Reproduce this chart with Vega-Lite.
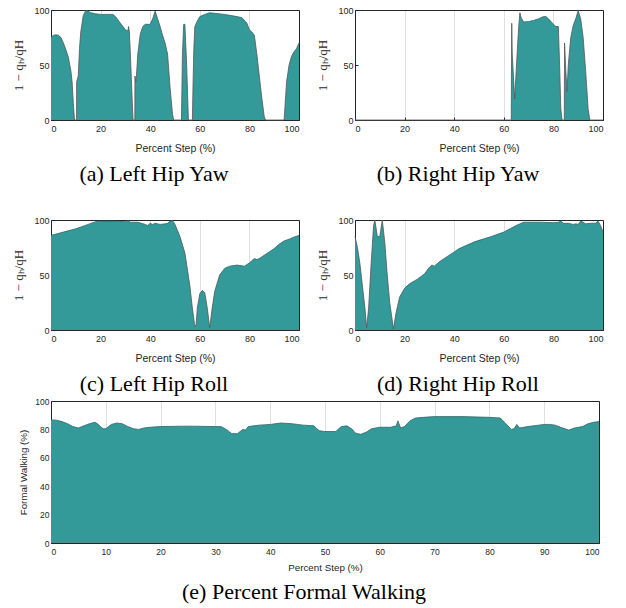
{
  "$schema": "https://vega.github.io/schema/vega-lite/v6.json",
  "background": "white",
  "padding": {"left": 12, "top": 5, "right": 5, "bottom": 5},
  "datasets": {
    "a": [{"x":0,"y":75},{"x":1,"y":77},{"x":2,"y":77.5},{"x":3,"y":77},{"x":4,"y":75},{"x":5,"y":70},{"x":6,"y":64},{"x":7,"y":57},{"x":8,"y":45},{"x":8.5,"y":35},{"x":9,"y":15},{"x":9.5,"y":0},{"x":10.3,"y":0},{"x":10.35,"y":35},{"x":11,"y":40},{"x":11.5,"y":65},{"x":12,"y":80},{"x":13,"y":95},{"x":14,"y":99.5},{"x":15,"y":99},{"x":16,"y":97.5},{"x":18,"y":96.5},{"x":20,"y":96},{"x":25,"y":96},{"x":26,"y":94},{"x":28,"y":88},{"x":30,"y":82},{"x":31,"y":81},{"x":31.3,"y":85},{"x":31.6,"y":80},{"x":32,"y":60},{"x":32.7,"y":20},{"x":33.1,"y":0},{"x":33.8,"y":0},{"x":33.85,"y":40},{"x":34.2,"y":35},{"x":34.4,"y":38},{"x":35,"y":60},{"x":36,"y":78},{"x":37,"y":85},{"x":38,"y":87},{"x":40,"y":87},{"x":41,"y":92},{"x":42,"y":99},{"x":43,"y":92},{"x":44,"y":85},{"x":45,"y":77},{"x":46,"y":70},{"x":47,"y":60},{"x":48,"y":30},{"x":49,"y":5},{"x":49.5,"y":0},{"x":52.6,"y":0},{"x":53,"y":60},{"x":53.5,"y":87},{"x":54,"y":87},{"x":54.7,"y":50},{"x":55.4,"y":0},{"x":57,"y":0},{"x":57.3,"y":35},{"x":57.6,"y":65},{"x":58,"y":85},{"x":59,"y":90},{"x":60,"y":94},{"x":62,"y":96},{"x":64,"y":97.5},{"x":66,"y":97},{"x":70,"y":96},{"x":75,"y":94},{"x":77,"y":93},{"x":79,"y":88},{"x":80,"y":82},{"x":81,"y":80},{"x":82,"y":77},{"x":83,"y":60},{"x":84,"y":40},{"x":85,"y":20},{"x":86,"y":3},{"x":86.5,"y":0},{"x":94,"y":0},{"x":95,"y":35},{"x":96,"y":50},{"x":97,"y":58},{"x":98,"y":62},{"x":99,"y":65},{"x":100,"y":70}],
    "b": [{"x":0,"y":0},{"x":63,"y":0},{"x":63.2,"y":88},{"x":63.4,"y":60},{"x":64.4,"y":19},{"x":65,"y":45},{"x":66,"y":85},{"x":66.5,"y":97.5},{"x":67,"y":93},{"x":68,"y":89},{"x":70,"y":89.5},{"x":72,"y":90.5},{"x":74,"y":92},{"x":76,"y":94},{"x":77,"y":94},{"x":78,"y":92},{"x":80,"y":87},{"x":81,"y":85},{"x":82,"y":85},{"x":82.5,"y":50},{"x":83,"y":10},{"x":83.5,"y":0},{"x":84.4,"y":0},{"x":84.5,"y":70},{"x":85,"y":45},{"x":85.5,"y":26},{"x":86,"y":50},{"x":87,"y":75},{"x":88,"y":86},{"x":89,"y":92},{"x":90,"y":99.5},{"x":91,"y":92},{"x":92,"y":75},{"x":93,"y":45},{"x":94,"y":10},{"x":94.7,"y":0},{"x":100,"y":0}],
    "c": [{"x":0,"y":86},{"x":5,"y":89},{"x":10,"y":92},{"x":15,"y":96},{"x":18,"y":98.5},{"x":20,"y":99},{"x":25,"y":99},{"x":30,"y":98.5},{"x":31,"y":99.5},{"x":32,"y":98},{"x":35,"y":98},{"x":38,"y":96},{"x":39,"y":95},{"x":40,"y":97},{"x":41,"y":96},{"x":42,"y":97},{"x":44,"y":96},{"x":46,"y":96.5},{"x":47,"y":97},{"x":48,"y":99},{"x":49,"y":99.5},{"x":50,"y":96},{"x":52,"y":85},{"x":54,"y":70},{"x":56,"y":40},{"x":57,"y":20},{"x":58,"y":3},{"x":58.5,"y":5},{"x":59,"y":20},{"x":60,"y":33},{"x":61,"y":36},{"x":62,"y":34},{"x":63,"y":20},{"x":64,"y":2},{"x":65,"y":20},{"x":66,"y":35},{"x":68,"y":50},{"x":70,"y":56},{"x":72,"y":58},{"x":75,"y":59},{"x":78,"y":58},{"x":80,"y":61},{"x":82,"y":65},{"x":83,"y":64},{"x":84,"y":65},{"x":86,"y":68},{"x":88,"y":71},{"x":90,"y":74},{"x":92,"y":78},{"x":94,"y":81},{"x":96,"y":82.5},{"x":98,"y":84.5},{"x":100,"y":86}],
    "d": [{"x":0,"y":85},{"x":1,"y":75},{"x":2,"y":60},{"x":3,"y":40},{"x":4,"y":20},{"x":4.7,"y":2},{"x":5.5,"y":20},{"x":6.5,"y":60},{"x":7.5,"y":95},{"x":8,"y":100},{"x":9,"y":85},{"x":10,"y":85},{"x":11,"y":100},{"x":12,"y":80},{"x":13,"y":50},{"x":14,"y":25},{"x":15.5,"y":1},{"x":16.5,"y":15},{"x":18,"y":30},{"x":20,"y":38},{"x":22,"y":42},{"x":25,"y":46},{"x":28,"y":51},{"x":30,"y":57},{"x":31,"y":59},{"x":32,"y":58},{"x":34,"y":62},{"x":36,"y":65},{"x":38,"y":68},{"x":40,"y":71},{"x":42,"y":74},{"x":45,"y":77},{"x":48,"y":80},{"x":50,"y":81.5},{"x":55,"y":85},{"x":60,"y":89},{"x":65,"y":95},{"x":68,"y":98},{"x":70,"y":98},{"x":75,"y":98},{"x":80,"y":97.5},{"x":82,"y":98},{"x":83,"y":99},{"x":84,"y":97},{"x":86,"y":97},{"x":88,"y":96},{"x":89,"y":96.5},{"x":90,"y":96},{"x":91,"y":99},{"x":92,"y":98},{"x":93,"y":96.5},{"x":95,"y":97},{"x":97,"y":97},{"x":98,"y":99},{"x":99,"y":95},{"x":100,"y":89}],
    "e": [{"x":0,"y":86.7},{"x":1,"y":86.5},{"x":2,"y":85.5},{"x":3,"y":84},{"x":4,"y":82},{"x":5,"y":81},{"x":6,"y":82.5},{"x":7,"y":84},{"x":8,"y":85},{"x":8.5,"y":84},{"x":9,"y":82},{"x":9.5,"y":80.5},{"x":10,"y":80.5},{"x":10.5,"y":82},{"x":11,"y":83.5},{"x":12,"y":84.5},{"x":13,"y":84},{"x":14,"y":82},{"x":15,"y":80.5},{"x":16,"y":80},{"x":17,"y":81},{"x":18,"y":81.5},{"x":20,"y":82},{"x":25,"y":82.3},{"x":30,"y":82},{"x":31,"y":82},{"x":32,"y":80},{"x":33,"y":77},{"x":34,"y":77},{"x":35,"y":80},{"x":35.5,"y":79.5},{"x":36,"y":82},{"x":38,"y":83},{"x":40,"y":83.5},{"x":42,"y":84.5},{"x":44,"y":84},{"x":46,"y":83},{"x":48,"y":82.5},{"x":48.5,"y":80.5},{"x":49,"y":79},{"x":50,"y":78.5},{"x":52,"y":78.5},{"x":52.5,"y":80.5},{"x":53,"y":82},{"x":54,"y":82.5},{"x":55,"y":80},{"x":55.5,"y":77.5},{"x":56.5,"y":76.5},{"x":57.5,"y":78},{"x":58.5,"y":80.5},{"x":60,"y":81.5},{"x":62,"y":81.5},{"x":63,"y":82.5},{"x":63.3,"y":86},{"x":63.8,"y":81},{"x":64.5,"y":82},{"x":65.5,"y":86},{"x":66.5,"y":88},{"x":68,"y":88.5},{"x":70,"y":89},{"x":75,"y":89},{"x":80,"y":88.5},{"x":82,"y":88},{"x":83,"y":84},{"x":84,"y":80},{"x":84.5,"y":80.5},{"x":85,"y":83.5},{"x":85.5,"y":81},{"x":87,"y":82},{"x":89,"y":83},{"x":90,"y":83.5},{"x":91,"y":83.5},{"x":92,"y":83},{"x":93,"y":81.5},{"x":94.5,"y":79.5},{"x":95.5,"y":81},{"x":97,"y":82},{"x":98,"y":84},{"x":99,"y":85},{"x":100,"y":85.5}]
  },
  "vconcat": [
    {
      "vconcat": [
        {
          "hconcat": [
            {
              "width": 248, "height": 110,
              "data": {"name": "a"},
              "title": {"text": "(a) Left Hip Yaw"},
              "mark": {"type": "area", "color": "#339999", "opacity": 1, "line": {"color": "#555555", "strokeWidth": 0.8}},
              "encoding": {
                "x": {"field": "x", "type": "quantitative", "scale": {"domain": [0, 100], "nice": false}, "axis": {"values": [0, 20, 40, 60, 80, 100], "title": "Percent Step (%)"}},
                "y": {"field": "y", "type": "quantitative", "scale": {"domain": [0, 100], "nice": false}, "axis": {"values": [0, 50, 100], "title": "1 − qₕ/qH", "titleFont": "Liberation Serif", "titleFontSize": 13}}
              }
            },
            {
              "width": 248, "height": 110,
              "data": {"name": "b"},
              "title": {"text": "(b) Right Hip Yaw"},
              "mark": {"type": "area", "color": "#339999", "opacity": 1, "line": {"color": "#555555", "strokeWidth": 0.8}},
              "encoding": {
                "x": {"field": "x", "type": "quantitative", "scale": {"domain": [0, 100], "nice": false}, "axis": {"values": [0, 20, 40, 60, 80, 100], "title": "Percent Step (%)"}},
                "y": {"field": "y", "type": "quantitative", "scale": {"domain": [0, 100], "nice": false}, "axis": {"values": [0, 50, 100], "title": "1 − qₕ/qH", "titleFont": "Liberation Serif", "titleFontSize": 13}}
              }
            }
          ],
          "spacing": 14
        },
        {
          "hconcat": [
            {
              "width": 248, "height": 110,
              "data": {"name": "c"},
              "title": {"text": "(c) Left Hip Roll"},
              "mark": {"type": "area", "color": "#339999", "opacity": 1, "line": {"color": "#555555", "strokeWidth": 0.8}},
              "encoding": {
                "x": {"field": "x", "type": "quantitative", "scale": {"domain": [0, 100], "nice": false}, "axis": {"values": [0, 20, 40, 60, 80, 100], "title": "Percent Step (%)"}},
                "y": {"field": "y", "type": "quantitative", "scale": {"domain": [0, 100], "nice": false}, "axis": {"values": [0, 50, 100], "title": "1 − qₕ/qH", "titleFont": "Liberation Serif", "titleFontSize": 13}}
              }
            },
            {
              "width": 248, "height": 110,
              "data": {"name": "d"},
              "title": {"text": "(d) Right Hip Roll"},
              "mark": {"type": "area", "color": "#339999", "opacity": 1, "line": {"color": "#555555", "strokeWidth": 0.8}},
              "encoding": {
                "x": {"field": "x", "type": "quantitative", "scale": {"domain": [0, 100], "nice": false}, "axis": {"values": [0, 20, 40, 60, 80, 100], "title": "Percent Step (%)"}},
                "y": {"field": "y", "type": "quantitative", "scale": {"domain": [0, 100], "nice": false}, "axis": {"values": [0, 50, 100], "title": "1 − qₕ/qH", "titleFont": "Liberation Serif", "titleFontSize": 13}}
              }
            }
          ],
          "spacing": 14
        }
      ],
      "spacing": 30
    },
    {
      "width": 548, "height": 142,
      "data": {"name": "e"},
      "title": {"text": "(e) Percent Formal Walking"},
      "mark": {"type": "area", "color": "#339999", "opacity": 1, "line": {"color": "#555555", "strokeWidth": 0.8}},
      "encoding": {
        "x": {"field": "x", "type": "quantitative", "scale": {"domain": [0, 100], "nice": false}, "axis": {"values": [0, 10, 20, 30, 40, 50, 60, 70, 80, 90, 100], "title": "Percent Step (%)", "labelFontSize": 8.5, "titleFontSize": 9.8, "titlePadding": 7}},
        "y": {"field": "y", "type": "quantitative", "scale": {"domain": [0, 100], "nice": false}, "axis": {"values": [0, 20, 40, 60, 80, 100], "title": "Formal Walking (%)", "labelFontSize": 8.5, "titleFontSize": 9.8, "titlePadding": 6}}
      }
    }
  ],
  "spacing": 1,
  "config": {
    "font": "Liberation Sans",
    "view": {"stroke": "#262626", "strokeWidth": 1},
    "axis": {
      "labelFont": "Liberation Sans", "labelFontSize": 9, "labelColor": "#262626",
      "titleFont": "Liberation Sans", "titleFontSize": 10.5, "titleFontWeight": "normal", "titleColor": "#262626",
      "domainColor": "#262626", "tickColor": "#262626", "tickSize": -3,
      "gridColor": "#000000", "gridOpacity": 0.12, "zindex": 1, "labelAngle": 0
    },
    "axisX": {"grid": true, "titlePadding": 10, "labelPadding": 7},
    "axisY": {"grid": false, "titlePadding": 8, "labelPadding": 5},
    "title": {"font": "Liberation Serif", "fontSize": 22, "fontWeight": "normal", "color": "#000000", "orient": "bottom", "anchor": "middle", "frame": "group", "dx": -21, "offset": 10}
  }
}
